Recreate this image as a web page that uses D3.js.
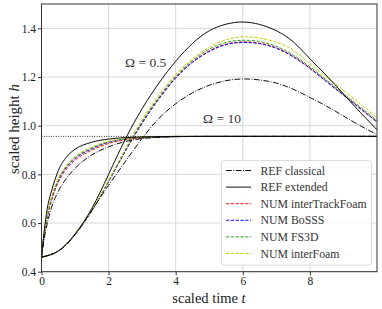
<!DOCTYPE html>
<html>
<head>
<meta charset="utf-8">
<script src="https://cdn.jsdelivr.net/npm/d3@7"></script>
<style>
  body { margin: 0; background: #fff; }
  svg text { font-family: 'Liberation Serif', 'Times New Roman', 'DejaVu Serif', serif !important; }
</style>
</head>
<body>
<svg id="chart" width="382" height="309"></svg>
<script>
// time grids (scaled time t)
const tSlow = [0, 0.5, 1, 1.5, 2, 2.5, 3, 3.5, 4, 4.5, 5, 5.5, 6, 6.5, 7, 7.5, 8, 8.5, 9, 9.5, 10];
const tFast = [0, 0.05, 0.1, 0.2, 0.3, 0.5, 0.75, 1, 1.5, 2, 2.5, 3, 3.5, 4, 5, 6, 7, 8, 9, 10];

// Omega = 0.5
const refClassicalSlow = [0.46, 0.485, 0.552, 0.652, 0.755, 0.853, 0.948, 1.03, 1.09, 1.135, 1.166, 1.185, 1.192, 1.188, 1.175, 1.15, 1.116, 1.08, 1.04, 1.0, 0.963];
const refExtendedSlow  = [0.46, 0.485, 0.555, 0.66, 0.8, 0.945, 1.07, 1.175, 1.265, 1.338, 1.39, 1.417, 1.426, 1.416, 1.39, 1.345, 1.275, 1.205, 1.13, 1.055, 0.983];
const itfSlow          = [0.46, 0.485, 0.553, 0.651, 0.772, 0.897, 1.012, 1.112, 1.197, 1.262, 1.307, 1.335, 1.344, 1.339, 1.32, 1.285, 1.237, 1.182, 1.127, 1.072, 1.016];
const bosssSlow        = [0.46, 0.485, 0.553, 0.65, 0.77, 0.895, 1.01, 1.11, 1.195, 1.26, 1.305, 1.333, 1.342, 1.337, 1.318, 1.283, 1.235, 1.18, 1.125, 1.07, 1.015];
const fs3dSlow         = [0.46, 0.485, 0.553, 0.652, 0.773, 0.9, 1.017, 1.118, 1.203, 1.268, 1.314, 1.342, 1.351, 1.346, 1.326, 1.29, 1.242, 1.187, 1.132, 1.077, 1.021];
const interFoamSlow    = [0.46, 0.485, 0.554, 0.653, 0.776, 0.905, 1.025, 1.125, 1.21, 1.275, 1.322, 1.353, 1.365, 1.36, 1.343, 1.31, 1.255, 1.2, 1.145, 1.09, 1.033];

// Omega = 10
const refClassicalFast = [0.46, 0.51, 0.55, 0.615, 0.665, 0.73, 0.785, 0.825, 0.88, 0.913, 0.935, 0.947, 0.952, 0.955, 0.956, 0.956, 0.956, 0.956, 0.956, 0.956];
const refExtendedFast  = [0.46, 0.53, 0.59, 0.68, 0.732, 0.815, 0.872, 0.903, 0.932, 0.945, 0.951, 0.954, 0.955, 0.956, 0.956, 0.956, 0.956, 0.956, 0.956, 0.956];
const itfFast          = [0.46, 0.515, 0.565, 0.638, 0.692, 0.768, 0.823, 0.858, 0.899, 0.927, 0.942, 0.95, 0.953, 0.955, 0.956, 0.956, 0.956, 0.956, 0.956, 0.956];
const bosssFast        = [0.46, 0.518, 0.57, 0.645, 0.7, 0.775, 0.83, 0.865, 0.905, 0.932, 0.945, 0.952, 0.954, 0.955, 0.956, 0.956, 0.956, 0.956, 0.956, 0.956];
const fs3dFast         = [0.46, 0.52, 0.573, 0.649, 0.704, 0.779, 0.834, 0.869, 0.908, 0.934, 0.946, 0.952, 0.954, 0.955, 0.956, 0.956, 0.956, 0.956, 0.956, 0.956];
const interFoamFast    = [0.46, 0.522, 0.577, 0.653, 0.708, 0.783, 0.838, 0.873, 0.912, 0.936, 0.947, 0.953, 0.955, 0.956, 0.956, 0.956, 0.956, 0.956, 0.956, 0.956];

const hEquilibrium = 0.956;
const xTicks = [0, 2, 4, 6, 8];
const yTicks = [0.4, 0.6, 0.8, 1.0, 1.2, 1.4];

const seriesInfo = [
  { label: "REF classical",      color: "#000", dash: "5.8,1.5,0.9,1.5", slow: refClassicalSlow, fast: refClassicalFast },
  { label: "REF extended",       color: "#000", dash: null,              slow: refExtendedSlow,  fast: refExtendedFast },
  { label: "NUM interTrackFoam", color: "#ff0000", dash: "3.3,1.5",     slow: itfSlow,          fast: itfFast },
  { label: "NUM BoSSS",          color: "#0000ff", dash: "3.3,1.5",     slow: bosssSlow,        fast: bosssFast },
  { label: "NUM FS3D",           color: "#1e9a1e", dash: "3.3,1.5",     slow: fs3dSlow,         fast: fs3dFast },
  { label: "NUM interFoam",      color: "#c8c800", dash: "3.3,1.5",     slow: interFoamSlow,    fast: interFoamFast }
];

const FONT = "'Liberation Serif', 'Times New Roman', serif";
const svg = d3.select("#chart");
const x = d3.scaleLinear().domain([0, 10]).range([41.5, 377]);
const y = d3.scaleLinear().domain([0.4, 1.5]).range([271.7, 4]);

// grid
const grid = svg.append("g").attr("stroke", "#d4d4d4").attr("stroke-width", 0.9);
xTicks.forEach(t => grid.append("line").attr("x1", x(t)).attr("x2", x(t)).attr("y1", y(0.4)).attr("y2", y(1.5)));
yTicks.forEach(v => grid.append("line").attr("x1", x(0)).attr("x2", x(10)).attr("y1", y(v)).attr("y2", y(v)));

// equilibrium height
svg.append("line")
  .attr("x1", x(0)).attr("x2", x(10)).attr("y1", y(hEquilibrium)).attr("y2", y(hEquilibrium))
  .attr("stroke", "#000").attr("stroke-width", 0.9).attr("stroke-dasharray", "0.9,1.5");

const lineSlow = d3.line().x(d => x(d[0])).y(d => y(d[1])).curve(d3.curveNatural);
const lineFast = d3.line().x(d => x(d[0])).y(d => y(d[1])).curve(d3.curveMonotoneX);
const plot = svg.append("g").attr("fill", "none");

// NUM first, REF on top
const drawOrder = [2, 3, 4, 5, 0, 1];
drawOrder.forEach(i => {
  const s = seriesInfo[i];
  [[tSlow, s.slow, lineSlow], [tFast, s.fast, lineFast]].forEach(([ts, hs, gen]) => {
    plot.append("path")
      .attr("d", gen(ts.map((t, k) => [t, hs[k]])))
      .attr("stroke", s.color)
      .attr("stroke-width", 0.95)
      .attr("stroke-dasharray", s.dash);
  });
});

// frame
svg.append("rect")
  .attr("x", x(0)).attr("y", y(1.5))
  .attr("width", x(10) - x(0)).attr("height", y(0.4) - y(1.5))
  .attr("fill", "none").attr("stroke", "#333").attr("stroke-width", 1);

// axes
const xAxis = svg.append("g").attr("transform", `translate(0,${y(0.4)})`)
  .call(d3.axisBottom(x).tickValues(xTicks).tickFormat(d3.format("d")).tickSize(3.5).tickPadding(1.5));
const yAxis = svg.append("g").attr("transform", `translate(${x(0)},0)`)
  .call(d3.axisLeft(y).tickValues(yTicks).tickFormat(d3.format(".1f")).tickSize(3.5).tickPadding(2));
[xAxis, yAxis].forEach(a => {
  a.attr("font-family", FONT).attr("font-size", 11.5);
  a.select(".domain").remove();
  a.selectAll(".tick line").attr("stroke", "#333");
  a.selectAll(".tick text").attr("fill", "#222");
});

// axis titles
svg.append("text").attr("x", 209).attr("y", 302.5).attr("text-anchor", "middle")
  .attr("font-family", FONT).attr("font-size", 14.5).attr("fill", "#222")
  .html('scaled time <tspan font-style="italic">t</tspan>');
svg.append("text").attr("transform", "translate(19,129) rotate(-90)").attr("text-anchor", "middle")
  .attr("font-family", FONT).attr("font-size", 15).attr("fill", "#222")
  .html('scaled height <tspan font-style="italic">h</tspan>');

// Omega annotations
svg.append("text").attr("x", 125).attr("y", 67).attr("font-family", FONT).attr("font-size", 13.5)
  .attr("fill", "#333").text("Ω = 0.5");
svg.append("text").attr("x", 203).attr("y", 123).attr("font-family", FONT).attr("font-size", 13.5)
  .attr("fill", "#333").text("Ω = 10");

// legend
const lg = svg.append("g");
lg.append("rect").attr("x", 221.5).attr("y", 160.5).attr("width", 150).attr("height", 104.5)
  .attr("rx", 3).attr("fill", "rgba(255,255,255,0.85)").attr("stroke", "#d8d8d8").attr("stroke-width", 0.9);
seriesInfo.forEach((s, i) => {
  const yy = 170.5 + i * 16.6;
  lg.append("line").attr("x1", 226).attr("x2", 251).attr("y1", yy).attr("y2", yy)
    .attr("stroke", s.color).attr("stroke-width", 0.95).attr("stroke-dasharray", s.dash);
  lg.append("text").attr("x", 260.5).attr("y", yy + 4).attr("font-family", FONT).attr("font-size", 11.8)
    .attr("fill", "#333").text(s.label);
});
</script>
</body>
</html>
